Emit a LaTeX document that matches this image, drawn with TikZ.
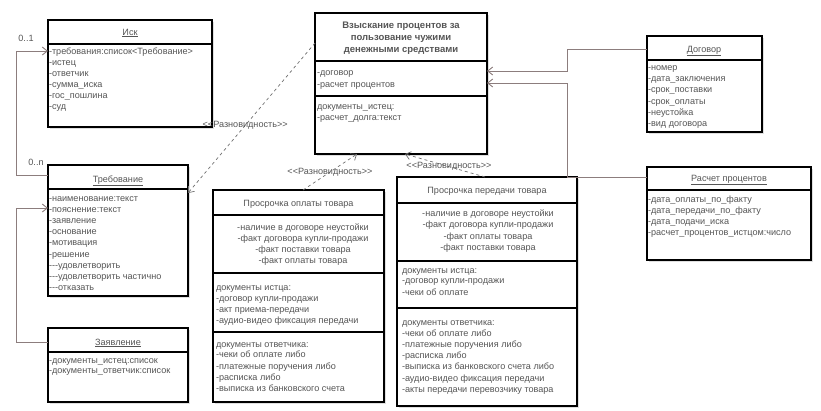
\documentclass[tikz,border=0pt]{standalone}
\usepackage{fontspec}
\setmainfont{Liberation Sans}
\usetikzlibrary{arrows.meta,shadows}

\begin{document}
\begin{tikzpicture}[x=1pt,y=-1pt,
  umlbox/.style={draw=col_box, line width=1.6pt, fill=white, anchor=north west, inner sep=0, outer sep=0,
    drop shadow={shadow xshift=1.5pt, shadow yshift=-1.5pt, opacity=0.25}},
  umlrule/.style={draw=col_box, line width=1.4pt},
  attr/.style={inner sep=0, outer sep=0, col_text, anchor=base west, font=\fontsize{9.1pt}{9.1pt}\selectfont},
  attrc/.style={attr, anchor=base},
  boldtitle/.style={attrc, font=\fontsize{9.5pt}{9.5pt}\bfseries\selectfont},
  link/.style={draw=col_link, line width=0.9pt, -{Straight Barb[length=5pt,width=8pt]}},
  kind/.style={draw=col_dash, line width=0.7pt, dashed, -{Straight Barb[length=5pt,width=8pt]}},
  stereo/.style={inner sep=0, outer sep=0, col_text, font=\fontsize{9.1pt}{9.1pt}\selectfont}]
\useasboundingbox (0,0) rectangle (821,410);
\definecolor{col_box}{RGB}{0, 0, 0}
\definecolor{col_text}{RGB}{85, 85, 85}
\definecolor{col_link}{RGB}{140, 125, 125}
\definecolor{col_dash}{RGB}{110, 110, 110}
% Иск
\node[umlbox, minimum width=164pt, minimum height=107pt] (isk) at (48,20) {};
\draw[umlrule] (48,44) -- (212,44);
\node[attrc] (iskT) at (130,35) {\underline{Иск}};
\node[attr] (isk1) at (49,54) {-требования:список<Требование>};
\node[attr] (isk2) at (49,65) {-истец};
\node[attr] (isk3) at (49,76) {-ответчик};
\node[attr] (isk4) at (49,87) {-сумма\_иска};
\node[attr] (isk5) at (49,98) {-гос\_пошлина};
\node[attr] (isk6) at (49,109) {-суд};
% Требование
\node[umlbox, minimum width=140pt, minimum height=131pt] (treb) at (48,165) {};
\draw[umlrule] (48,189) -- (188,189);
\node[attrc] (trebT) at (118,182) {\underline{Требование}};
\node[attr] (treb1) at (49,201) {-наименование:текст};
\node[attr] (treb2) at (49,212.2) {-пояснение:текст};
\node[attr] (treb3) at (49,223.4) {-заявление};
\node[attr] (treb4) at (49,234.6) {-основание};
\node[attr] (treb5) at (49,245.8) {-мотивация};
\node[attr] (treb6) at (49,257) {-решение};
\node[attr] (treb7) at (49,268.2) {-{}-{}-удовлетворить};
\node[attr] (treb8) at (49,279.4) {-{}-{}-удовлетворить частично};
\node[attr] (treb9) at (49,290.6) {-{}-{}-отказать};
% Заявление
\node[umlbox, minimum width=140pt, minimum height=74pt] (zayav) at (48,328) {};
\draw[umlrule] (48,352) -- (188,352);
\node[attrc] (zayavT) at (118,345) {\underline{Заявление}};
\node[attr] (zayav1) at (49,363) {-документы\_истец:список};
\node[attr] (zayav2) at (49,373) {-документы\_ответчик:список};
% Взыскание процентов
\node[umlbox, minimum width=172pt, minimum height=141pt] (vzysk) at (315,13) {};
\draw[umlrule] (315,61) -- (487,61);
\draw[umlrule] (315,96) -- (487,96);
\node[boldtitle] (vzyskT1) at (401,28) {Взыскание процентов за};
\node[boldtitle] (vzyskT2) at (401,40) {пользование чужими};
\node[boldtitle] (vzyskT3) at (401,52) {денежными средствами};
\node[attr] (vzysk1) at (317,75) {-договор};
\node[attr] (vzysk2) at (317,87) {-расчет процентов};
\node[attr] (vzysk3) at (317,109.5) {документы\_истец:};
\node[attr] (vzysk4) at (317,120.5) {-расчет\_долга:текст};
% Договор
\node[umlbox, minimum width=115pt, minimum height=96pt] (dogovor) at (647,36) {};
\draw[umlrule] (647,60) -- (762,60);
\node[attrc] (dogovorT) at (704,52) {\underline{Договор}};
\node[attr] (dogovor1) at (648,70.5) {-номер};
\node[attr] (dogovor2) at (648,81.7) {-дата\_заключения};
\node[attr] (dogovor3) at (648,92.9) {-срок\_поставки};
\node[attr] (dogovor4) at (648,104.1) {-срок\_оплаты};
\node[attr] (dogovor5) at (648,115.3) {-неустойка};
\node[attr] (dogovor6) at (648,126.5) {-вид договора};
% Расчет процентов
\node[umlbox, minimum width=164pt, minimum height=93pt] (raschet) at (647,167) {};
\draw[umlrule] (647,190) -- (811,190);
\node[attrc] (raschetT) at (729,181) {\underline{Расчет процентов}};
\node[attr] (raschet1) at (648,202) {-дата\_оплаты\_по\_факту};
\node[attr] (raschet2) at (648,213) {-дата\_передачи\_по\_факту};
\node[attr] (raschet3) at (648,224) {-дата\_подачи\_иска};
\node[attr] (raschet4) at (648,235) {-расчет\_процентов\_истцом:число};
% Просрочка оплаты товара
\node[umlbox, minimum width=171pt, minimum height=212pt] (oplata) at (213,190) {};
\draw[umlrule] (213,215) -- (384,215);
\draw[umlrule] (213,273) -- (384,273);
\draw[umlrule] (213,332) -- (384,332);
\node[attrc] (oplataT) at (298.5,206) {Просрочка оплаты товара};
\node[attrc] (oplata1) at (303,230) {-наличие в договоре неустойки};
\node[attrc] (oplata2) at (303,241) {-факт договора купли-продажи};
\node[attrc] (oplata3) at (303,252.5) {-факт поставки товара};
\node[attrc] (oplata4) at (303,263) {-факт оплаты товара};
\node[attr] (oplata5) at (216,290) {документы истца:};
\node[attr] (oplata6) at (216,301) {-договор купли-продажи};
\node[attr] (oplata7) at (216,312) {-акт приема-передачи};
\node[attr] (oplata8) at (216,323) {-аудио-видео фиксация передачи};
\node[attr] (oplata9) at (216,347) {документы ответчика:};
\node[attr] (oplata10) at (216,357.5) {-чеки об оплате либо};
\node[attr] (oplata11) at (216,369) {-платежные поручения либо};
\node[attr] (oplata12) at (216,380) {-расписка либо};
\node[attr] (oplata13) at (216,391) {-выписка из банковского счета};
% Просрочка передачи товара
\node[umlbox, minimum width=180pt, minimum height=229pt] (peredacha) at (397,177) {};
\draw[umlrule] (397,203) -- (577,203);
\draw[umlrule] (397,261) -- (577,261);
\draw[umlrule] (397,308) -- (577,308);
\node[attrc] (peredachaT) at (487,193) {Просрочка передачи товара};
\node[attrc] (peredacha1) at (488,216) {-наличие в договоре неустойки};
\node[attrc] (peredacha2) at (488,227) {-факт договора купли-продажи};
\node[attrc] (peredacha3) at (488,239) {-факт оплаты товара};
\node[attrc] (peredacha4) at (488,250) {-факт поставки товара};
\node[attr] (peredacha5) at (402,273) {документы истца:};
\node[attr] (peredacha6) at (402,283.5) {-договор купли-продажи};
\node[attr] (peredacha7) at (402,295) {-чеки об оплате};
\node[attr] (peredacha8) at (402,325) {документы ответчика:};
\node[attr] (peredacha9) at (402,336) {-чеки об оплате либо};
\node[attr] (peredacha10) at (402,347) {-платежные поручения либо};
\node[attr] (peredacha11) at (402,358) {-расписка либо};
\node[attr] (peredacha12) at (402,369.5) {-выписка из банковского счета либо};
\node[attr] (peredacha13) at (402,381) {-аудио-видео фиксация передачи};
\node[attr] (peredacha14) at (402,392) {-акты передачи перевозчику товара};
% multiplicities
\node[stereo] (mult1) at (26,38) {0..1};
\node[stereo] (mult2) at (36,162) {0..n};
% connectors
\draw[link] ([yshift=-10pt]treb.north west) -- ++(-32,0) |- ([yshift=-31pt]isk.north west);
\draw[link] ([yshift=-14pt]zayav.north west) -- ++(-32,0) |- ([yshift=-43pt]treb.north west);
\draw[link] ([yshift=-13pt]dogovor.north west) -- ++(-80,0) |- ([yshift=-58pt]vzysk.north east);
\draw[link] ([yshift=-10pt]raschet.north west) -- ++(-80,0) |- ([yshift=-70pt]vzysk.north east);
\draw[kind] ([yshift=-30pt]vzysk.north west) -- node[stereo, pos=0.55] (kind1) {<{}<Разновидность>{}>} ([yshift=-28pt]treb.north east);
\draw[kind] ([xshift=90pt]oplata.north west) -- node[stereo] (kind2) {<{}<Разновидность>{}>} ([xshift=42pt]vzysk.south west);
\draw[kind] ([xshift=88pt]peredacha.north west) -- node[stereo, pos=0.45] (kind3) {<{}<Разновидность>{}>} ([xshift=90pt]vzysk.south west);
\end{tikzpicture}
\end{document}
